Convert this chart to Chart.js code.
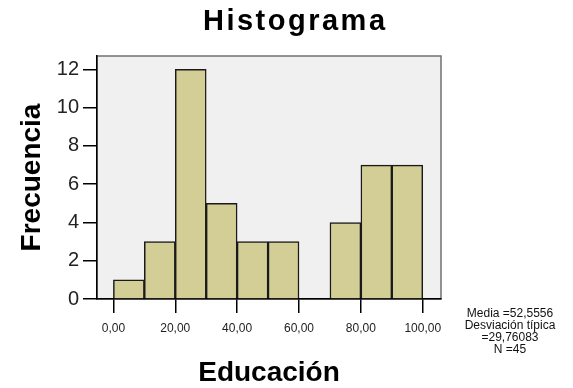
<!DOCTYPE html>
<html><head><meta charset="utf-8">
<script src="https://cdn.jsdelivr.net/npm/chart.js@4"></script>
<style>html,body{margin:0;padding:0;background:#fff}#wrap{width:573px;height:388px;position:relative}</style>
</head><body><div id="wrap"><canvas id="c"></canvas></div>
<script>
const binStarts = [0,10,20,30,40,50,60,70,80,90];
const counts = [1,3,12,5,3,3,0,4,7,7];
const binWidth = 10;
const xTickValues = [0,20,40,60,80,100];
const yTickValues = [0,2,4,6,8,10,12];
const statsLines = ['Media =52,5556','Desviación típica','=29,76083','N =45'];
const titleText = 'Histograma';
const xTitle = 'Educación';
const yTitle = 'Frecuencia';

const FONT = '"Liberation Sans", Arial, sans-serif';
const points = binStarts.map((s, i) => ({x: s + binWidth / 2, y: counts[i]}));

const bgPlugin = {
  id: 'bg',
  beforeDraw(chart) {
    const {ctx, chartArea: a} = chart;
    ctx.save();
    ctx.fillStyle = '#f0f0f0';
    ctx.fillRect(a.left, a.top, a.right - a.left, a.bottom - a.top);
    ctx.strokeStyle = '#707070';
    ctx.lineWidth = 1.5;
    ctx.strokeRect(a.left, a.top, a.right - a.left, a.bottom - a.top);
    ctx.restore();
  }
};
const textPlugin = {
  id: 'texts',
  afterDraw(chart) {
    const {ctx} = chart;
    ctx.save();
    // main title
    ctx.fillStyle = '#000';
    ctx.font = 'bold 29px ' + FONT;
    ctx.letterSpacing = '2.5px';
    ctx.textAlign = 'left';
    ctx.textBaseline = 'alphabetic';
    const w = ctx.measureText(titleText).width - 2.5;
    ctx.fillText(titleText, 294 - w / 2, 30);
    ctx.letterSpacing = '0px';
    // statistics box
    ctx.fillStyle = '#111';
    ctx.font = '12px ' + FONT;
    ctx.textAlign = 'center';
    ctx.textBaseline = 'middle';
    statsLines.forEach((t, i) => ctx.fillText(t, 510, 314 + i * 12));
    ctx.restore();
  }
};

new Chart(document.getElementById('c'), {
  type: 'bar',
  data: {
    datasets: [{
      data: points,
      backgroundColor: '#d3ce96',
      borderColor: '#1a1a1a',
      borderWidth: 1.5,
      barPercentage: 1,
      categoryPercentage: 1
    }]
  },
  options: {
    responsive: true,
    maintainAspectRatio: false,
    animation: false,
    layout: {padding: {top: 56}},
    plugins: {
      legend: {display: false},
      tooltip: {enabled: false},
      title: {display: false}
    },
    scales: {
      x: {
        type: 'linear',
        min: -5.3,
        max: 105.9,
        offset: false,
        afterBuildTicks(s) { s.ticks = xTickValues.map(v => ({value: v})); },
        afterFit(s) { s.height = 89; },
        ticks: {
          color: '#222',
          font: {family: FONT, size: 12},
          padding: 8,
          maxRotation: 0,
          autoSkip: false,
          callback: v => v.toFixed(2).replace('.', ',')
        },
        grid: {display: true, offset: false, drawOnChartArea: false, drawTicks: true, tickLength: 14, color: '#000', lineWidth: 1.5},
        border: {display: true, color: '#000', width: 1.5},
        title: {display: true, text: xTitle, color: '#000', font: {family: FONT, size: 28, weight: 'bold', lineHeight: 1}, padding: {top: 0, bottom: 1}}
      },
      y: {
        type: 'linear',
        min: 0,
        max: 12.7,
        afterBuildTicks(s) { s.ticks = yTickValues.map(v => ({value: v})); },
        afterFit(s) { s.width = 97; },
        ticks: {color: '#222', font: {family: FONT, size: 20}, padding: 4},
        grid: {display: true, offset: false, drawOnChartArea: false, drawTicks: true, tickLength: 14, color: '#000', lineWidth: 1.5},
        border: {display: true, color: '#000', width: 1.5},
        title: {display: true, text: yTitle, color: '#000', font: {family: FONT, size: 28, weight: 'bold', lineHeight: 1}, padding: {top: 18, bottom: 0}}
      },
      yR: {
        position: 'right',
        display: true,
        afterFit(s) { s.width = 132; },
        ticks: {display: false},
        grid: {display: false},
        border: {display: false}
      }
    }
  },
  plugins: [bgPlugin, textPlugin]
});
</script></body></html>
